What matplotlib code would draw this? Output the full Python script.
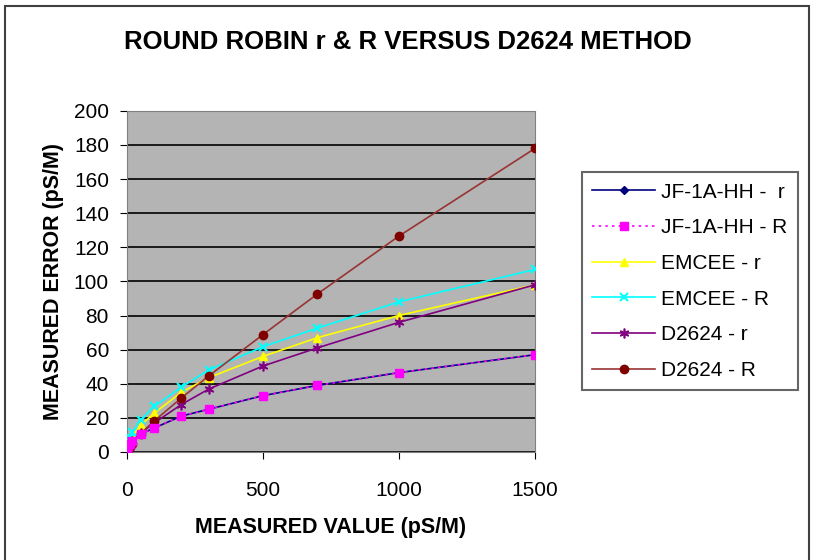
import matplotlib
matplotlib.use('Agg')
import matplotlib.pyplot as plt
import matplotlib.patches as mpatches

plt.rcParams['font.family'] = ['Liberation Sans', 'DejaVu Sans']

# Valores medidos (pS/M)
x_vals = [1, 5, 10, 20, 50, 100, 200, 300, 500, 700, 1000, 1500]

jf_r = [1.5, 3.3, 4.6, 6.6, 10.4, 14, 21, 25, 33, 39, 46.5, 57]
jf_R = [1.5, 3.3, 4.6, 6.6, 10.4, 14, 21, 25, 33, 39, 46.5, 57]
emcee_r = [1.9, 4.5, 6.5, 9.4, 15.6, 22.7, 35, 43.5, 56, 67, 80, 98]
emcee_R = [2.5, 5.7, 8.2, 11.7, 18.7, 26.7, 38, 48, 61.7, 72.6, 88, 107]
d2624_r = [0.9, 2.4, 3.8, 6.3, 10.9, 17, 27.8, 36.8, 50.4, 61, 76, 98]
d2624_R = [0.4, 1.5, 2.6, 4.9, 10.7, 18.2, 31.6, 44.5, 68.8, 92.6, 126.6, 178]

labels = ['JF-1A-HH -  r', 'JF-1A-HH - R', 'EMCEE - r', 'EMCEE - R', 'D2624 - r', 'D2624 - R']

fig = plt.figure(figsize=(8.16, 5.6), dpi=100)
ax = fig.add_axes([0.1556, 0.193, 0.5, 0.609])
ax.set_facecolor('#b4b4b4')

ax.plot(x_vals, jf_r, color='#000080', marker='D', markersize=4, lw=1.2, label=labels[0], zorder=3)
ax.plot(x_vals, jf_R, color='#ff00ff', marker='s', markersize=6, lw=1.2, ls=(0, (1.5, 2.5)), label=labels[1], zorder=4)
ax.plot(x_vals, emcee_r, color='#ffff00', marker='^', markersize=6, lw=1.2, label=labels[2], zorder=3)
ax.plot(x_vals, emcee_R, color='#00ffff', marker='x', markersize=6, mew=1.5, lw=1.2, label=labels[3], zorder=3)
ax.plot(x_vals, d2624_r, color='#800080', marker=(6, 2, 0), markersize=7, mew=1.2, lw=1.2, label=labels[4], zorder=3)
ax.plot(x_vals, d2624_R, color='#993333', marker='o', markersize=6, mfc='#800000', mec='#800000', lw=1.2, label=labels[5], zorder=3)

ax.set_xlim(0, 1500)
ax.set_ylim(0, 200)
ax.set_xticks([0, 500, 1000, 1500])
ax.set_yticks(range(0, 201, 20))
ax.grid(axis='y', color='black', lw=1.2)
ax.set_axisbelow(True)
ax.tick_params(labelsize=15, direction='out', length=5, color='black')
ax.tick_params(axis='x', pad=16)
ax.tick_params(axis='y', pad=8)
for s in ax.spines.values():
    s.set_color('#808080')

ax.set_xlabel('MEASURED VALUE (pS/M)', fontsize=15.5, fontweight='bold', labelpad=12)
ax.set_ylabel('MEASURED ERROR (pS/M)', fontsize=15.5, fontweight='bold', labelpad=7)
fig.text(0.5, 0.925, 'ROUND ROBIN r & R VERSUS D2624 METHOD', ha='center', va='center',
         fontsize=18.5, fontweight='bold')

leg = ax.legend(loc='center left', bbox_to_anchor=(1.115, 0.5), fontsize=15,
                frameon=True, fancybox=False, edgecolor='#404040', borderpad=0.5,
                labelspacing=0.8, handlelength=3.0, handletextpad=0.3, borderaxespad=0)
leg.get_frame().set_linewidth(1.5)

# Cadre du graphique
fig.patches.append(mpatches.Rectangle((0.006, -0.01), 0.985, 1.0, transform=fig.transFigure,
                                      fill=False, edgecolor='#404040', lw=1.5))

fig.savefig('out.png', dpi=100)
